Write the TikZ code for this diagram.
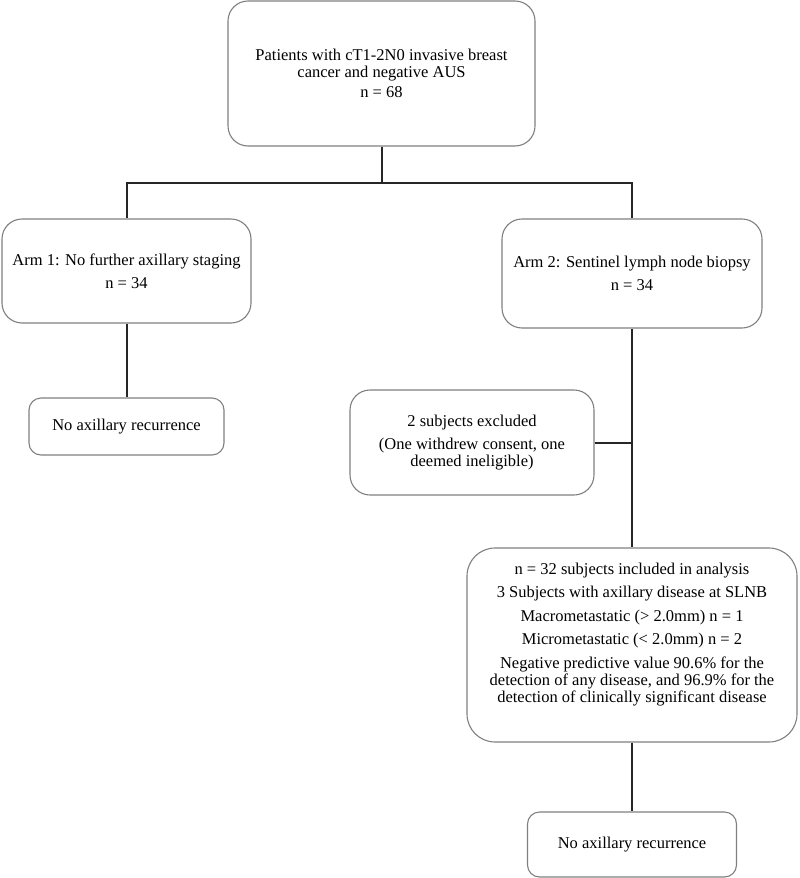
\documentclass[tikz,border=0pt]{standalone}
\usepackage{fontspec}
\setmainfont{Liberation Serif}
\usetikzlibrary{positioning}

\begin{document}
\begin{tikzpicture}[x=1pt,y=-1pt,on grid,font=\fontsize{16.5}{17}\selectfont]
       \tikzstyle{box}=[draw=black!50,line width=1.1pt,rounded corners=20pt,
                        align=center,inner sep=0pt,fill=white]
       \tikzstyle{link}=[draw=black!85,line width=2pt]

       \useasboundingbox (0,0) rectangle (800,878);

       \node[box,minimum width=307pt,minimum height=145pt] (pat) at (381.5,73.5)
            {Patients with cT1-2N0 invasive breast\\ cancer and negative AUS\\[3pt] n = 68};
       \node[box,minimum width=249pt,minimum height=104pt] (arm_1) [below left=197.5pt and 255pt of pat]
            {Arm 1: No further axillary staging\\[6pt] n = 34};
       \node[box,minimum width=260pt,minimum height=109pt] (arm_2) [below right=200pt and 250.5pt of pat]
            {Arm 2: Sentinel lymph node biopsy\\[6pt] n = 34};
       \node[box,rounded corners=12pt,minimum width=195pt,minimum height=57pt] (rec_1) [below=155.5pt of arm_1]
            {No axillary recurrence};
       \node[box,minimum width=244pt,minimum height=105pt] (excl) [below left=169pt and 160pt of arm_2]
            {2 subjects excluded\\[6.5pt] (One withdrew consent, one\\ deemed ineligible)};
       \node[box,rounded corners=28pt,minimum width=330pt,minimum height=194pt,text depth=25pt] (res) [below=371.5pt of arm_2]
            {n = 32 subjects included in analysis\\[6.5pt]
             3 Subjects with axillary disease at SLNB\\[6.5pt]
             Macrometastatic (> 2.0mm) n = 1\\[6.5pt]
             Micrometastatic (< 2.0mm) n = 2\\[6.5pt]
             Negative predictive value 90.6\% for the\\
             detection of any disease, and 96.9\% for the\\
             detection of clinically significant disease};
       \node[box,rounded corners=12pt,minimum width=209pt,minimum height=65pt] (rec_2) [below=199.5pt of res]
            {No axillary recurrence};

       % connectors
       \draw[link] (pat.south) -- ++(0,36) coordinate (split);
       \draw[link] (split) -| (arm_1.north);
       \draw[link] (split) -| (arm_2.north);
       \path[link]
       (arm_1) edge (rec_1)
       (arm_2) edge (res)
       (excl.east) edge (excl.east -| arm_2.south)
       (res) edge (rec_2);
\end{tikzpicture}
\end{document}
